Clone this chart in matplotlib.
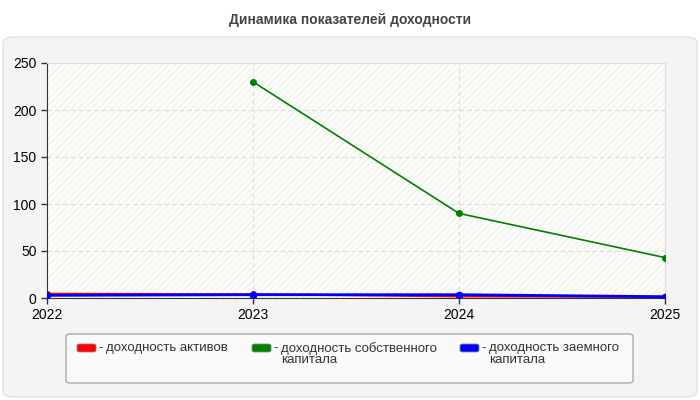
import matplotlib.pyplot as plt
from matplotlib.patches import FancyBboxPatch, Rectangle
import numpy as np

plt.rcParams['font.family'] = ['Liberation Sans', 'DejaVu Sans']
plt.rcParams['hatch.color'] = '#ebebeb'
plt.rcParams['hatch.linewidth'] = 0.6

years = [2022, 2023, 2024, 2025]
assets = [4.5, 4.0, 1.7, 1.2]
equity = [np.nan, 230, 90, 43]
debt = [2.8, 3.5, 3.5, 1.4]

labels = ['доходность активов',
          'доходность собственного\nкапитала',
          'доходность заемного\nкапитала']
colors = ['#ff0000', '#008000', '#0000ff']

fig = plt.figure(figsize=(7, 4), dpi=100)
fig.patch.set_facecolor('white')

# outer grey panel
panel = FancyBboxPatch((3 / 700, 3 / 400), 694 / 700, 360 / 400,
                       boxstyle='round,pad=0,rounding_size=0.015',
                       transform=fig.transFigure, facecolor='#f4f4f4',
                       edgecolor='#e2e2e2', linewidth=1, zorder=-2)
fig.patches.append(panel)

fig.text(0.5, 1 - 20 / 400, 'Динамика показателей доходности',
         ha='center', va='center', fontsize=10, fontweight='bold', color='#444444')

ax = fig.add_axes([47 / 700, 102 / 400, 618 / 700, 235 / 400])
ax.set_facecolor('#fdfdf9')
ax.add_patch(Rectangle((0, 0), 1, 1, transform=ax.transAxes, facecolor='none',
                       hatch='/////', edgecolor='#ececec', linewidth=0, zorder=0))

ax.plot(years, assets, color=colors[0], lw=1.5, marker='o', ms=4, zorder=3)
ax.plot(years, equity, color=colors[1], lw=1.2, marker='o', ms=4, zorder=3)
ax.plot(years, debt, color=colors[2], lw=2, marker='o', ms=4.5, zorder=4)

ax.set_xlim(2022, 2025)
ax.set_ylim(0, 250)
ax.set_xticks(years)
ax.set_yticks([0, 50, 100, 150, 200, 250])
ax.grid(True, color='#dddddd', linestyle=(0, (4, 3)), linewidth=0.8)
ax.set_axisbelow(True)
ax.tick_params(labelsize=10, colors='#333333', length=4, width=1)
ax.tick_params(axis='both', labelcolor='black')
for s in ['left', 'bottom']:
    ax.spines[s].set_color('#333333')
for s in ['top', 'right']:
    ax.spines[s].set_color('#dddddd')

# legend box
leg = FancyBboxPatch((66 / 700, 17 / 400), 567 / 700, 49 / 400,
                     boxstyle='round,pad=0,rounding_size=0.006',
                     transform=fig.transFigure, facecolor='#fafafa',
                     edgecolor='#aaaaaa', linewidth=1, zorder=1)
fig.patches.append(leg)

sw_x = [77, 252, 460]
for x, c, lab in zip(sw_x, colors, labels):
    sw = FancyBboxPatch((x / 700, 1 - 352 / 400), 19 / 700, 8 / 400,
                        boxstyle='round,pad=0,rounding_size=0.004',
                        transform=fig.transFigure, facecolor=c,
                        edgecolor='#888888', linewidth=0.6, zorder=2)
    fig.patches.append(sw)
    fig.text((x + 21) / 700, 1 - 342 / 400, '-', ha='left', va='top',
             fontsize=9.5, color='#333333')
    fig.text((x + 29) / 700, 1 - 342 / 400, lab, ha='left', va='top',
             fontsize=9.5, color='#333333', linespacing=0.95)

fig.savefig('out.png', dpi=100)
